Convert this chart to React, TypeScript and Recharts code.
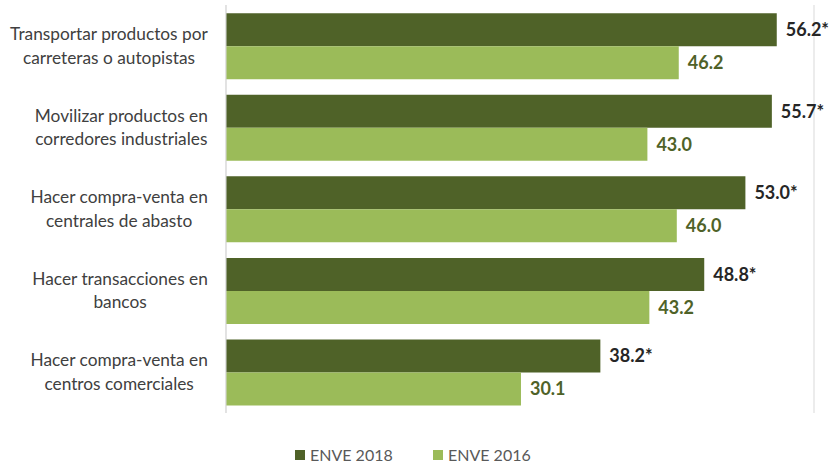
import { BarChart, Bar, XAxis, YAxis, CartesianGrid, Legend, LabelList } from "recharts";

const categories = [
  "Transportar productos por\ncarreteras o autopistas",
  "Movilizar productos en\ncorredores industriales",
  "Hacer compra-venta en\ncentrales de abasto",
  "Hacer transacciones en\nbancos",
  "Hacer compra-venta en\ncentros comerciales",
];
const enve2018 = [56.2, 55.7, 53.0, 48.8, 38.2];
const enve2016 = [46.2, 43.0, 46.0, 43.2, 30.1];
const xTicks = [0, 10, 20, 30, 40, 50, 60];

const data = categories.map((name, i) => ({ name, e2018: enve2018[i], e2016: enve2016[i] }));

const FONT = "Lato, 'Open Sans', sans-serif";
const DARK = "#4F6228";
const LIGHT = "#9BBB59";
const TICK_SIZE = 17.3;

let ctx: CanvasRenderingContext2D | null = null;
function textWidth(s: string) {
  if (!ctx) ctx = document.createElement("canvas").getContext("2d");
  if (!ctx) return s.length * 8;
  ctx.font = `${TICK_SIZE}px Lato`;
  return ctx.measureText(s).width;
}

function CategoryTick(props: any) {
  const { y, payload } = props;
  const lines: string[] = String(payload.value).split("\n");
  const maxW = Math.max(...lines.map(textWidth));
  const cx = 208 - maxW / 2;
  const lh = 23.5;
  const start = y - ((lines.length - 1) * lh) / 2 - 0.5;
  return (
    <text x={cx} y={start} textAnchor="middle" fill="#404040" fontFamily={FONT} fontSize={TICK_SIZE}>
      {lines.map((l, i) => (
        <tspan key={i} x={cx} y={start + i * lh} dominantBaseline="central">
          {l}
        </tspan>
      ))}
    </text>
  );
}

function LegendContent() {
  const items = [
    { label: "ENVE 2018", color: DARK, x: 295 },
    { label: "ENVE 2016", color: LIGHT, x: 433 },
  ];
  return (
    <div style={{ position: "relative", height: 53, fontFamily: FONT, fontSize: 16, color: "#595959" }}>
      {items.map((it) => (
        <div key={it.label} style={{ position: "absolute", left: it.x, top: 33, display: "flex", alignItems: "center", lineHeight: "18px" }}>
          <span style={{ width: 10, height: 10, background: it.color, display: "inline-block", marginRight: 5 }} />
          <span>{it.label}</span>
        </div>
      ))}
    </div>
  );
}

export default function App() {
  return (
    <div style={{ position: "absolute", left: 0, top: 0, width: 829, height: 466, background: "#fff" }}>
      <BarChart
        width={829}
        height={466}
        data={data}
        layout="vertical"
        margin={{ top: 5, right: 15, left: 0, bottom: 0 }}
        barCategoryGap="10%"
        barGap={0}
      >
        <CartesianGrid horizontal={false} stroke="#D9D9D9" />
        <XAxis type="number" domain={[0, 60]} ticks={xTicks} height={0} tick={false} tickLine={false} axisLine={false} />
        <YAxis
          type="category"
          dataKey="name"
          width={226}
          axisLine={{ stroke: "#D9D9D9" }}
          tickLine={false}
          tick={<CategoryTick />}
          interval={0}
        />
        <Legend verticalAlign="bottom" height={53} content={<LegendContent />} wrapperStyle={{ left: 0, width: 829 }} />
        <Bar dataKey="e2018" name="ENVE 2018" fill={DARK} isAnimationActive={false}>
          <LabelList
            dataKey="e2018"
            position="right"
            offset={9}
            formatter={(v: any) => `${Number(v).toFixed(1)}*`}
            fill="#262626"
            fontFamily={FONT}
            fontSize={18}
            fontWeight="bold"
          />
        </Bar>
        <Bar dataKey="e2016" name="ENVE 2016" fill={LIGHT} isAnimationActive={false}>
          <LabelList
            dataKey="e2016"
            position="right"
            offset={9}
            formatter={(v: any) => Number(v).toFixed(1)}
            fill={DARK}
            fontFamily={FONT}
            fontSize={18}
            fontWeight="bold"
          />
        </Bar>
      </BarChart>
    </div>
  );
}
